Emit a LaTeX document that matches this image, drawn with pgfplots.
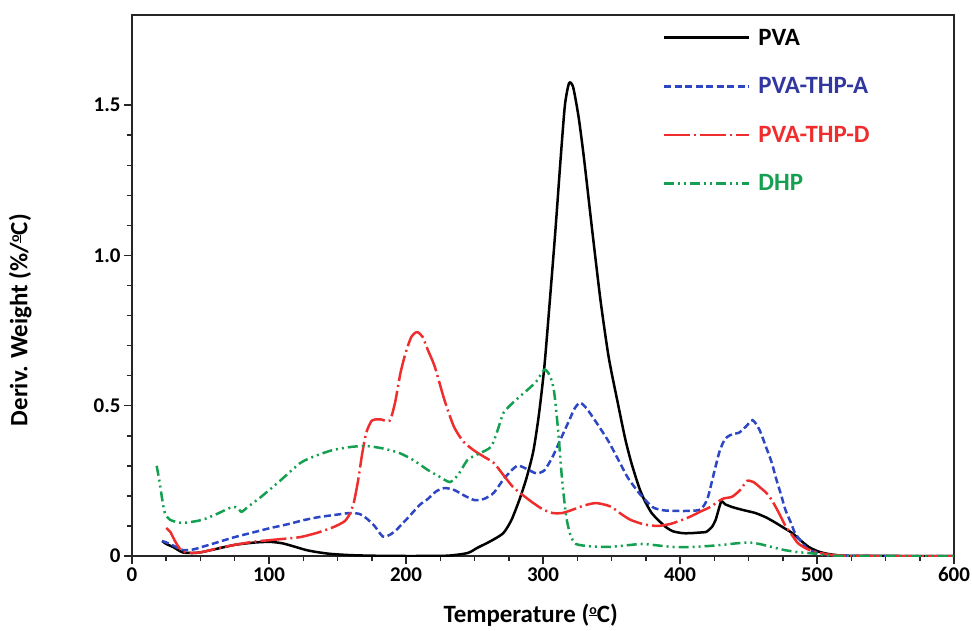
\documentclass[border=0pt]{standalone}
\usepackage{pgfplots}
\pgfplotsset{compat=1.18}
\usepackage{fontspec}
\setmainfont{Carlito}
\definecolor{pvaA}{RGB}{45,70,195}
\definecolor{pvaAtext}{RGB}{50,55,160}
\definecolor{pvaD}{RGB}{240,45,45}
\definecolor{dhp}{RGB}{20,160,80}
% underlined ordinal o as in the original axis labels
\newcommand{\ordo}{\raisebox{0.33em}{\fontsize{14}{14}\selectfont\underline{o}}}
\begin{document}
\begin{tikzpicture}
\begin{axis}[
    scale only axis,
    width=822bp, height=541bp,
    xmin=0, xmax=600, ymin=0, ymax=1.8,
    axis line style={line width=1.5bp, black!85},
    xtick={0,100,...,600}, minor x tick num=3,
    ytick={0,0.5,1,1.5}, yticklabels={0,0.5,1.0,1.5}, minor y tick num=4,
    xtick pos=bottom, ytick pos=left,
    tick align=outside,
    major tick length=8bp, minor tick length=5bp,
    tick style={line width=1.5bp, black!85},
    /pgf/number format/assume math mode=true,
    ticklabel style={font=\fontsize{21}{24}\selectfont\bfseries},
    xlabel={Temperature (\ordo C)},
    ylabel={Deriv. Weight (\%/\ordo C)},
    every axis x label/.style={at={(axis description cs:0.485,-0.109)}, anchor=center,
        font=\fontsize{25}{28}\selectfont\bfseries},
    every axis y label/.style={at={(axis description cs:-0.136,0.436)}, anchor=center, rotate=90,
        font=\fontsize{25}{28}\selectfont\bfseries},
    legend style={draw=none, fill=none, at={(0.642,0.982)}, anchor=north west,
        font=\fontsize{25}{28}\selectfont\bfseries, row sep=27bp, column sep=6bp},
    legend cell align=left,
    legend image code/.code={\draw[#1] (0bp,0bp) -- (85bp,0bp);},
    every axis plot/.append style={line width=2.5bp},
]
\coordinate (sw) at (rel axis cs:0,0);
\coordinate (ne) at (rel axis cs:1,1);

% PVA
\addplot[black, smooth, tension=0.4] coordinates {
(22,0.05)(25,0.04)(30,0.03)(37,0.012)(45,0.01)(51,0.013)(60,0.022)(75,0.037)(90,0.045)
(101,0.047)(110,0.042)(118,0.032)(127,0.02)(135,0.013)(145,0.007)(159,0.003)(175,0.001)
(200,0)(230,0.001)(245,0.01)(252,0.027)(262,0.05)(271,0.076)(277,0.12)(283,0.19)(288,0.26)
(293,0.35)(297,0.47)(301,0.63)(305,0.85)(309,1.08)(313,1.33)(316,1.50)(319,1.573)(322,1.56)
(326,1.46)(330,1.32)(336,1.08)(342,0.85)(348,0.66)(355,0.50)(360,0.39)(364.5,0.31)(370,0.23)
(374,0.186)(379,0.145)(384,0.12)(390,0.095)(395,0.082)(402,0.076)(408,0.076)(414,0.078)
(419,0.08)(423,0.095)(426,0.12)(430,0.18)(433,0.172)(438,0.163)(446,0.153)(455,0.143)
(463,0.128)(470,0.11)(476,0.093)(482,0.076)(488,0.052)(494,0.03)(501,0.015)(508,0.007)
(520,0.001)(560,0)(600,0)
};
\addlegendentry{PVA}

% PVA-THP-A
\addplot[pvaA, smooth, tension=0.4, dash pattern=on 7bp off 3.5bp] coordinates {
(22,0.05)(25,0.045)(30,0.035)(37,0.02)(45,0.022)(51,0.03)(62,0.045)(75,0.063)(88,0.078)
(101,0.093)(113,0.105)(126,0.12)(137,0.13)(147,0.136)(159,0.143)(166,0.14)(171,0.126)
(177,0.1)(183,0.065)(188,0.07)(193,0.087)(202,0.13)(210,0.17)(216,0.19)(222,0.215)
(228,0.226)(235,0.22)(243,0.2)(250,0.186)(257,0.19)(264,0.21)(272,0.26)(281,0.30)
(288,0.29)(295,0.275)(301,0.285)(307,0.33)(313,0.39)(319,0.45)(323,0.49)(327,0.51)
(332,0.49)(341,0.43)(348,0.38)(355,0.32)(362,0.26)(370,0.21)(376,0.18)(381,0.16)
(388,0.152)(395,0.15)(407,0.15)(415,0.155)(420,0.19)(425,0.28)(429,0.35)(433,0.39)
(438,0.405)(443,0.41)(448,0.43)(453,0.452)(458,0.42)(463,0.36)(467,0.31)(470,0.26)
(474,0.2)(477,0.153)(481,0.11)(484,0.076)(489,0.045)(494,0.02)(503,0.008)(515,0.002)
(540,0)(600,0)
};
\addlegendentry{\textcolor{pvaAtext}{PVA-THP-A}}

% PVA-THP-D
\addplot[pvaD, smooth, tension=0.4, dash pattern=on 26bp off 4bp on 2bp off 4bp] coordinates {
(25,0.093)(28,0.08)(31,0.053)(34,0.03)(37,0.015)(44,0.01)(51,0.013)(62,0.025)(75,0.037)
(88,0.047)(101,0.053)(113,0.058)(123,0.063)(135,0.077)(147,0.096)(155,0.115)(159,0.14)
(162,0.18)(165,0.25)(168,0.34)(171,0.41)(175,0.45)(181,0.455)(188,0.45)(192,0.51)
(196,0.61)(200,0.68)(204,0.73)(208,0.745)(212,0.73)(216,0.685)(221,0.63)(228,0.52)
(235,0.43)(242,0.38)(250,0.35)(257,0.33)(264,0.31)(271,0.27)(278,0.23)(286,0.2)
(293,0.176)(300,0.155)(307,0.143)(314,0.143)(321,0.153)(330,0.168)(338,0.176)(344,0.172)
(350,0.163)(357,0.14)(364,0.12)(374,0.105)(384,0.1)(394,0.108)(407,0.13)(415,0.148)
(422,0.163)(431,0.19)(438,0.197)(444,0.22)(449,0.25)(454,0.245)(458,0.23)(463,0.21)
(467,0.186)(472,0.145)(477,0.1)(482,0.068)(486,0.043)(492,0.025)(498,0.015)(508,0.005)
(520,0.001)(540,0)(600,0)
};
\addlegendentry{\textcolor{pvaD}{PVA-THP-D}}

% DHP
\addplot[dhp, smooth, tension=0.4, dash pattern=on 10bp off 4bp on 2bp off 4bp on 2bp off 4bp] coordinates {
(18,0.30)(20,0.25)(22,0.19)(24,0.143)(28,0.12)(37,0.11)(51,0.12)(62,0.14)(73,0.163)
(77,0.16)(80,0.147)(85,0.165)(94,0.196)(108,0.25)(123,0.31)(135,0.335)(147,0.353)
(160,0.363)(171,0.366)(183,0.358)(195,0.343)(205,0.32)(216,0.286)(224,0.265)(232,0.246)
(238,0.27)(245,0.32)(253,0.34)(262,0.363)(267,0.42)(271,0.475)(278,0.51)(288,0.55)
(295,0.58)(301,0.62)(305,0.6)(308,0.55)(311,0.42)(314,0.25)(317,0.13)(320,0.07)
(324,0.04)(335,0.032)(348,0.03)(360,0.035)(372,0.04)(384,0.035)(395,0.03)(407,0.03)
(420,0.033)(431,0.037)(441,0.042)(450,0.045)(458,0.04)(467,0.03)(476,0.02)(486,0.013)
(498,0.008)(508,0.002)(520,0)(600,0)
};
\addlegendentry{\textcolor{dhp}{DHP}}
\end{axis}
\pgfresetboundingbox
\path ([shift={(-132bp,-75bp)}]sw) rectangle ([shift={(18bp,15bp)}]ne);
\end{tikzpicture}
\end{document}
